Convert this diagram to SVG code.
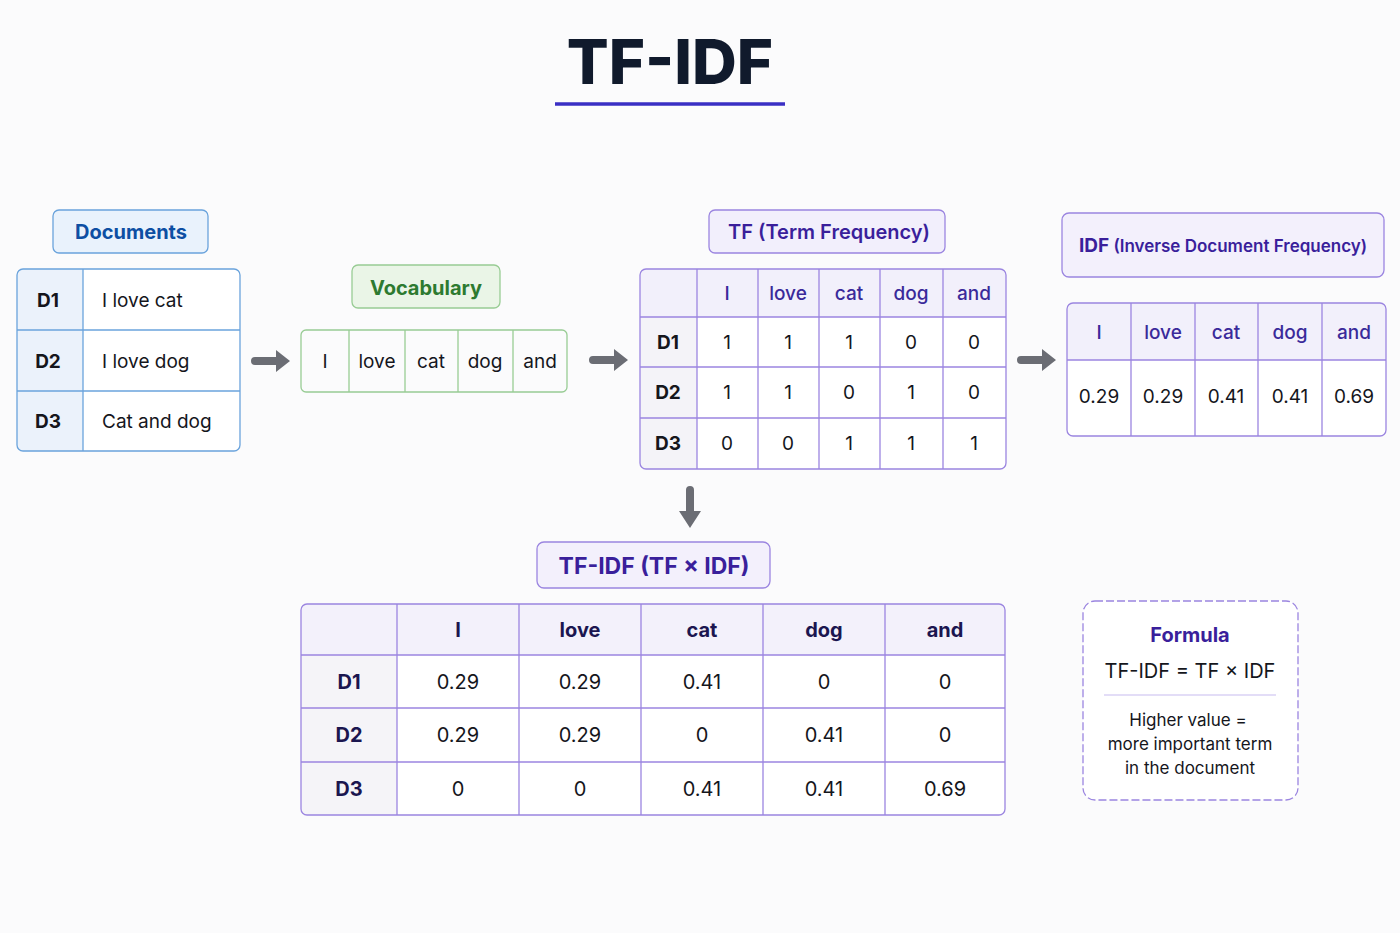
<svg xmlns="http://www.w3.org/2000/svg" width="1400" height="933" viewBox="0 0 1400 933">
<style>
text{font-family:Inter,"Noto Sans","Liberation Sans",sans-serif}
.cell{font-size:19px;fill:#15161c;text-anchor:middle}
.lcell{font-size:19px;fill:#15161c}
.rl{font-size:19px;font-weight:700;fill:#15161c;text-anchor:middle}
.ph{font-size:19px;font-weight:500;fill:#3a2a9a;text-anchor:middle}
.bigc{font-size:20px;fill:#15161c;text-anchor:middle}
.bigh{font-size:20px;font-weight:700;fill:#1b1650;text-anchor:middle}
.pline{stroke:#9b85e0;stroke-width:1.3;fill:none}
.bline{stroke:#6aa3dc;stroke-width:1.3;fill:none}
.gline{stroke:#98cc94;stroke-width:1.3;fill:none}
.arrow{fill:#6b6d74}
</style>
<rect width="1400" height="933" fill="#fbfbfc"/>

<g id="title">
<text x="670" y="84" font-size="62" font-weight="800" fill="#101a2c" text-anchor="middle">TF-IDF</text>
<line x1="555" y1="104" x2="785" y2="104" stroke="#3a2fc4" stroke-width="3.5"/>
</g>

<g id="documents">
<rect x="53" y="210" width="155" height="43" rx="6" fill="#e9f2fc" stroke="#6aa3dc" stroke-width="1.3"/>
<text x="131" y="239" font-size="20" font-weight="700" fill="#0d4fa3" text-anchor="middle">Documents</text>
<rect x="17" y="269" width="223" height="182" rx="6" fill="#ffffff"/>
<path d="M23 269 H83 V451 H23 A6 6 0 0 1 17 445 V275 A6 6 0 0 1 23 269 Z" fill="#ebf2fb"/>
<rect x="17" y="269" width="223" height="182" rx="6" class="bline"/>
<line x1="83" y1="269" x2="83" y2="451" class="bline"/>
<line x1="17" y1="330" x2="240" y2="330" class="bline"/>
<line x1="17" y1="391" x2="240" y2="391" class="bline"/>
<text x="48" y="307" class="rl">D1</text>
<text x="48" y="368" class="rl">D2</text>
<text x="48" y="428" class="rl">D3</text>
<text x="102" y="307" class="lcell">I love cat</text>
<text x="102" y="368" class="lcell">I love dog</text>
<text x="102" y="428" class="lcell">Cat and dog</text>
</g>

<g id="vocabulary">
<rect x="352" y="265" width="148" height="43" rx="6" fill="#eaf5e7" stroke="#98cc94" stroke-width="1.3"/>
<text x="426" y="295" font-size="20" font-weight="700" fill="#2d7a30" text-anchor="middle">Vocabulary</text>
<rect x="301" y="330" width="266" height="62" rx="5" fill="#eef7ec" class="gline"/>
<line x1="349" y1="330" x2="349" y2="392" class="gline"/>
<line x1="405" y1="330" x2="405" y2="392" class="gline"/>
<line x1="458" y1="330" x2="458" y2="392" class="gline"/>
<line x1="513" y1="330" x2="513" y2="392" class="gline"/>
<text x="325" y="368" class="cell">I</text>
<text x="377" y="368" class="cell">love</text>
<text x="431" y="368" class="cell">cat</text>
<text x="485" y="368" class="cell">dog</text>
<text x="540" y="368" class="cell">and</text>
</g>

<g id="tf">
<rect x="709" y="210" width="236" height="43" rx="6" fill="#f2effc" stroke="#9b85e0" stroke-width="1.3"/>
<text x="829" y="239" font-size="20" font-weight="600" fill="#3a1f9b" text-anchor="middle">TF (Term Frequency)</text>
<rect x="640" y="269" width="366" height="200" rx="6" fill="#ffffff"/>
<path d="M646 269 H1000 A6 6 0 0 1 1006 275 V317 H640 V275 A6 6 0 0 1 646 269 Z" fill="#f2f0fb"/>
<path d="M640 317 H697 V469 H646 A6 6 0 0 1 640 463 Z" fill="#f4f3f8"/>
<rect x="640" y="269" width="366" height="200" rx="6" class="pline"/>
<line x1="697" y1="269" x2="697" y2="469" class="pline"/>
<line x1="758" y1="269" x2="758" y2="469" class="pline"/>
<line x1="819" y1="269" x2="819" y2="469" class="pline"/>
<line x1="880" y1="269" x2="880" y2="469" class="pline"/>
<line x1="943" y1="269" x2="943" y2="469" class="pline"/>
<line x1="640" y1="317" x2="1006" y2="317" class="pline"/>
<line x1="640" y1="367" x2="1006" y2="367" class="pline"/>
<line x1="640" y1="418" x2="1006" y2="418" class="pline"/>
<text x="727" y="300" class="ph">I</text>
<text x="788" y="300" class="ph">love</text>
<text x="849" y="300" class="ph">cat</text>
<text x="911" y="300" class="ph">dog</text>
<text x="974" y="300" class="ph">and</text>
<text x="668" y="349" class="rl">D1</text>
<text x="668" y="399" class="rl">D2</text>
<text x="668" y="450" class="rl">D3</text>
<text x="727" y="349" class="cell">1</text><text x="788" y="349" class="cell">1</text><text x="849" y="349" class="cell">1</text><text x="911" y="349" class="cell">0</text><text x="974" y="349" class="cell">0</text>
<text x="727" y="399" class="cell">1</text><text x="788" y="399" class="cell">1</text><text x="849" y="399" class="cell">0</text><text x="911" y="399" class="cell">1</text><text x="974" y="399" class="cell">0</text>
<text x="727" y="450" class="cell">0</text><text x="788" y="450" class="cell">0</text><text x="849" y="450" class="cell">1</text><text x="911" y="450" class="cell">1</text><text x="974" y="450" class="cell">1</text>
</g>

<g id="idf">
<rect x="1062" y="213" width="322" height="64" rx="7" fill="#f3f0fc" stroke="#9b85e0" stroke-width="1.3"/>
<text x="1223" y="252" fill="#3a1f9b" text-anchor="middle" font-weight="600" font-size="17"><tspan font-size="19" font-weight="700">IDF</tspan> (Inverse Document Frequency)</text>
<rect x="1067" y="303" width="319" height="133" rx="6" fill="#ffffff"/>
<path d="M1073 303 H1380 A6 6 0 0 1 1386 309 V360 H1067 V309 A6 6 0 0 1 1073 303 Z" fill="#f2f0fb"/>
<rect x="1067" y="303" width="319" height="133" rx="6" class="pline"/>
<line x1="1131" y1="303" x2="1131" y2="436" class="pline"/>
<line x1="1195" y1="303" x2="1195" y2="436" class="pline"/>
<line x1="1258" y1="303" x2="1258" y2="436" class="pline"/>
<line x1="1322" y1="303" x2="1322" y2="436" class="pline"/>
<line x1="1067" y1="360" x2="1386" y2="360" class="pline"/>
<text x="1099" y="339" class="ph">I</text>
<text x="1163" y="339" class="ph">love</text>
<text x="1226" y="339" class="ph">cat</text>
<text x="1290" y="339" class="ph">dog</text>
<text x="1354" y="339" class="ph">and</text>
<text x="1099" y="403" class="cell">0.29</text>
<text x="1163" y="403" class="cell">0.29</text>
<text x="1226" y="403" class="cell">0.41</text>
<text x="1290" y="403" class="cell">0.41</text>
<text x="1354" y="403" class="cell">0.69</text>
</g>

<g id="tfidf">
<rect x="537" y="542" width="233" height="46" rx="7" fill="#f3f0fc" stroke="#9b85e0" stroke-width="1.3"/>
<text x="654" y="574" font-size="23" font-weight="700" fill="#3a1f9b" text-anchor="middle">TF-IDF (TF × IDF)</text>
<rect x="301" y="604" width="704" height="211" rx="6" fill="#ffffff"/>
<path d="M307 604 H999 A6 6 0 0 1 1005 610 V655 H301 V610 A6 6 0 0 1 307 604 Z" fill="#f3f1fb"/>
<path d="M301 655 H397 V815 H307 A6 6 0 0 1 301 809 Z" fill="#f5f4f8"/>
<rect x="301" y="604" width="704" height="211" rx="6" class="pline"/>
<line x1="397" y1="604" x2="397" y2="815" class="pline"/>
<line x1="519" y1="604" x2="519" y2="815" class="pline"/>
<line x1="641" y1="604" x2="641" y2="815" class="pline"/>
<line x1="763" y1="604" x2="763" y2="815" class="pline"/>
<line x1="885" y1="604" x2="885" y2="815" class="pline"/>
<line x1="301" y1="655" x2="1005" y2="655" class="pline"/>
<line x1="301" y1="708" x2="1005" y2="708" class="pline"/>
<line x1="301" y1="762" x2="1005" y2="762" class="pline"/>
<text x="458" y="637" class="bigh">I</text>
<text x="580" y="637" class="bigh">love</text>
<text x="702" y="637" class="bigh">cat</text>
<text x="824" y="637" class="bigh">dog</text>
<text x="945" y="637" class="bigh">and</text>
<text x="349" y="689" class="bigh">D1</text>
<text x="349" y="742" class="bigh">D2</text>
<text x="349" y="796" class="bigh">D3</text>
<text x="458" y="689" class="bigc">0.29</text><text x="580" y="689" class="bigc">0.29</text><text x="702" y="689" class="bigc">0.41</text><text x="824" y="689" class="bigc">0</text><text x="945" y="689" class="bigc">0</text>
<text x="458" y="742" class="bigc">0.29</text><text x="580" y="742" class="bigc">0.29</text><text x="702" y="742" class="bigc">0</text><text x="824" y="742" class="bigc">0.41</text><text x="945" y="742" class="bigc">0</text>
<text x="458" y="796" class="bigc">0</text><text x="580" y="796" class="bigc">0</text><text x="702" y="796" class="bigc">0.41</text><text x="824" y="796" class="bigc">0.41</text><text x="945" y="796" class="bigc">0.69</text>
</g>

<g id="formula">
<rect x="1083" y="601" width="215" height="199" rx="12" fill="#ffffff" stroke="#9b85e0" stroke-width="1.3" stroke-dasharray="8 3"/>
<text x="1190" y="642" font-size="20" font-weight="700" fill="#3a1f9b" text-anchor="middle">Formula</text>
<text x="1190" y="678" font-size="20" fill="#15161c" text-anchor="middle">TF-IDF = TF × IDF</text>
<line x1="1104" y1="695" x2="1276" y2="695" stroke="#c8bcef" stroke-width="1.2"/>
<text x="1188" y="726" font-size="17" fill="#15161c" text-anchor="middle">Higher value =</text>
<text x="1190" y="750" font-size="17" fill="#15161c" text-anchor="middle">more important term</text>
<text x="1190" y="774" font-size="17" fill="#15161c" text-anchor="middle">in the document</text>
</g>

<g id="connectors">
<path class="arrow" d="M255 357 H276 V350 L290 361 L276 372 V365 H255 A4 4 0 0 1 255 357 Z"/>
<path class="arrow" d="M593 356 H614 V349 L628 360 L614 371 V364 H593 A4 4 0 0 1 593 356 Z"/>
<path class="arrow" d="M1021 356 H1042 V349 L1056 360 L1042 371 V364 H1021 A4 4 0 0 1 1021 356 Z"/>
<path class="arrow" d="M686 490 V511 H679 L690 528 L701 511 H694 V490 A4 4 0 0 0 686 490 Z"/>
</g>
</svg>
